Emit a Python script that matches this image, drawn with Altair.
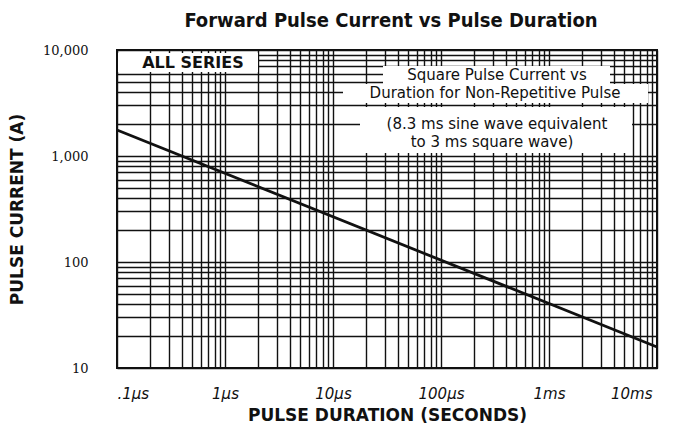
import math
import altair as alt
import pandas as pd

# ---- data ----
line_duration_s = [1e-7, 1e-2]          # pulse duration (seconds)
line_current_a = [1760, 15.8]            # pulse current (A)

x_decades = [1e-7, 1e-6, 1e-5, 1e-4, 1e-3, 1e-2]
x_decade_labels = [".1\u00b5s", "1\u00b5s", "10\u00b5s", "100\u00b5s", "1ms", "10ms"]
y_decades = [10, 100, 1000, 10000]
y_decade_labels = ["10", "100", "1,000", "10,000"]

title_text = "Forward Pulse Current vs Pulse Duration"
x_title = "PULSE DURATION (SECONDS)"
y_title = "PULSE CURRENT (A)"
note_series = "ALL SERIES"
note_lines = ["Square Pulse Current vs", "Duration for Non-Repetitive Pulse",
              "(8.3 ms sine wave equivalent", "to 3 ms square wave)"]

# grid positions: 1..9 in every decade
x_grid = [k * d for d in x_decades[:-1] for k in range(1, 10)] + [x_decades[-1]]
y_grid = [k * d for d in y_decades[:-1] for k in range(1, 10)] + [y_decades[-1]]


def label_expr(decades, labels):
    expr = "''"
    for d, lab in reversed(list(zip(decades, labels))):
        expr = f"abs(log(datum.value)/LN10 - ({math.log10(d):.4f})) < 0.001 ? '{lab}' : ({expr})"
    return expr


df = pd.DataFrame({"t": line_duration_s, "i": line_current_a})
one = pd.DataFrame({"a": [0]})

W, H = 540, 318
INK = "#111"

x_enc = alt.X("t:Q", scale=alt.Scale(type="log", domain=[x_decades[0], x_decades[-1]], nice=False),
              axis=alt.Axis(values=x_grid, labelExpr=label_expr(x_decades, x_decade_labels),
                            title=x_title, grid=True, gridColor=INK, gridWidth=1.4, gridOpacity=1,
                            ticks=False, domain=False,
                            labelFont="DejaVu Sans", labelFontSize=15, labelFontStyle="italic",
                            labelColor=INK, labelPadding=18, labelOverlap=False,
                            labelOffset={"condition": {"test": "datum.value > 0.005", "value": -5}, "value": 0},
                            titleFont="DejaVu Sans", titleFontSize=17, titleFontWeight="bold",
                            titleColor=INK, titlePadding=6))
y_enc = alt.Y("i:Q", scale=alt.Scale(type="log", domain=[y_decades[0], y_decades[-1]], nice=False),
              axis=alt.Axis(values=y_grid, labelExpr=label_expr(y_decades, y_decade_labels),
                            title=y_title, grid=True, gridColor=INK, gridWidth=1.4, gridOpacity=1,
                            ticks=False, domain=False,
                            labelFont="DejaVu Serif", labelFontSize=13, labelColor=INK,
                            labelPadding=29, labelOverlap=False,
                            titleFont="DejaVu Sans", titleFontSize=17, titleFontWeight="bold",
                            titleColor=INK, titlePadding=16))

line = alt.Chart(df).mark_line(color=INK, strokeWidth=2.8).encode(x=x_enc, y=y_enc)


def box(x1, x2, y1, y2):
    return alt.Chart(one).mark_rect(fill="white").encode(
        x=alt.value(x1), x2=alt.value(x2), y=alt.value(y1), y2=alt.value(y2))


def note(txt, x, y, size=15, weight="normal"):
    return alt.Chart(one).mark_text(font="DejaVu Sans", fontSize=size, fontWeight=weight,
                                    color=INK, align="center", baseline="middle").encode(
        x=alt.value(x), y=alt.value(y), text=alt.value(txt))


layers = [
    line,
    box(1, 141, 3, 22),
    box(266, 493, 16, 34),
    box(226, 531, 34, 53),
    box(243, 515, 57, 103),
    note(note_series, 76, 12.5, size=16, weight="bold"),
    note(note_lines[0], 380, 25),
    note(note_lines[1], 378, 43),
    note(note_lines[2], 380, 74),
    note(note_lines[3], 375, 92),
]

chart = alt.layer(*layers).properties(
    width=W, height=H, background="white",
    title=alt.TitleParams(title_text, font="DejaVu Sans Condensed", fontSize=20, fontWeight="bold",
                          color=INK, dx=4, offset=13),
    autosize=alt.AutoSizeParams(type="none"),
    padding={"left": 109, "top": 42, "right": 14, "bottom": 56},
).configure_view(stroke=INK, strokeWidth=2)

chart.save("out.html", embed_options={"renderer": "svg", "actions": False})
